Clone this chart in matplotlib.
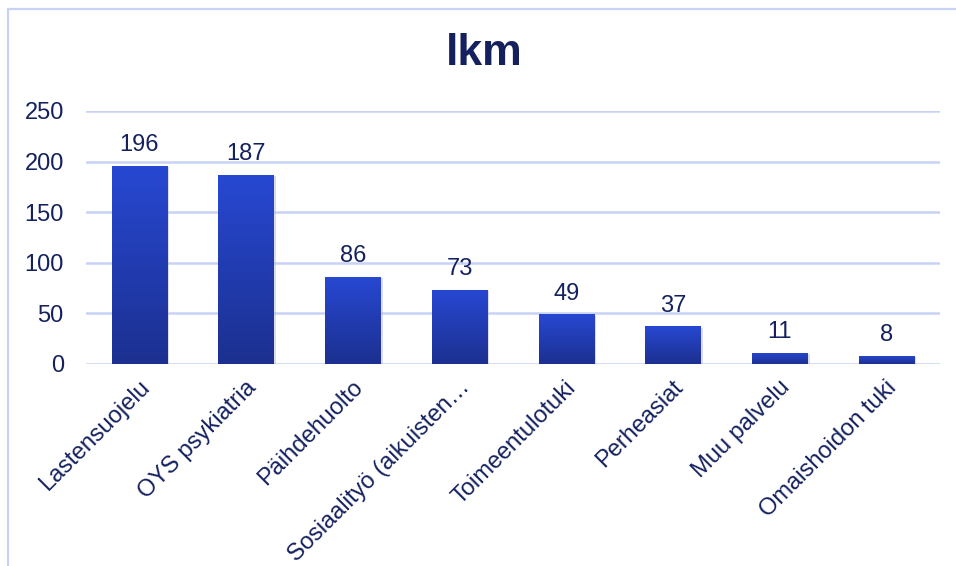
import numpy as np
import matplotlib.pyplot as plt
from matplotlib.patches import Rectangle
import matplotlib.transforms as mtransforms

categories = ['Lastensuojelu', 'OYS psykiatria', 'Päihdehuolto', 'Sosiaalityö (aikuisten…',
              'Toimeentulotuki', 'Perheasiat', 'Muu palvelu', 'Omaishoidon tuki']
values = [196, 187, 86, 73, 49, 37, 11, 8]
yticks = [0, 50, 100, 150, 200, 250]

navy = '#14215e'
grid_col = '#c8d2f6'

plt.rcParams['font.family'] = ['Liberation Sans', 'DejaVu Sans']

fig = plt.figure(figsize=(9.56, 5.66), dpi=100)
ax = fig.add_axes([0.090, 0.357, 0.893, 0.447])

# outer frame (only top and left edges fall inside the image)
fig.patches.append(Rectangle((8 / 956, -0.1), 1.1, 1 - 9 / 566 + 0.1, transform=fig.transFigure,
                             fill=False, edgecolor=grid_col, linewidth=1.6))

x = np.arange(len(categories))
bars = ax.bar(x, values, width=0.52, color='#2440c0', zorder=3)

# vertical gradient inside each bar
grad = np.linspace(0, 1, 256).reshape(-1, 1)
cmap = plt.matplotlib.colors.LinearSegmentedColormap.from_list('g', ['#1c3090', '#2748d2'])
for b in bars:
    x0, w, h = b.get_x(), b.get_width(), b.get_height()
    # shadow
    ax.add_patch(Rectangle((x0 + 0.02, -1.2), w, h, color='#bbbbc4', alpha=0.5, zorder=2, linewidth=0))
    im = ax.imshow(grad, extent=(x0, x0 + w, 0, h), origin='lower', cmap=cmap,
                   aspect='auto', zorder=4)
    im.set_clip_path(b)

for xi, v in zip(x, values):
    ax.annotate(str(v), (xi, v), xytext=(0, 7), textcoords='offset points',
                ha='center', va='bottom', fontsize=17, color=navy, zorder=5)

ax.set_xlim(-0.5, len(categories) - 0.5)
ax.set_ylim(0, 250)
ax.set_yticks(yticks)
ax.yaxis.grid(True, color=grid_col, linewidth=1.8, zorder=0)
ax.set_axisbelow(True)
for s in ax.spines.values():
    s.set_visible(False)
ax.tick_params(axis='both', length=0, labelsize=17, colors=navy)
ax.tick_params(axis='y', pad=16)
ax.set_xticks(x)
ax.set_xticklabels(categories, rotation=45, ha='right', rotation_mode='anchor')
ax.tick_params(axis='x', pad=9)
shift = mtransforms.ScaledTranslation(-1 / 100, 0, fig.dpi_scale_trans)
for lbl in ax.get_xticklabels():
    lbl.set_transform(lbl.get_transform() + shift)

fig.text(0.507, 0.905, 'lkm', ha='center', va='center', fontsize=32,
         fontweight='bold', color=navy)

fig.savefig('out.png', dpi=100)
